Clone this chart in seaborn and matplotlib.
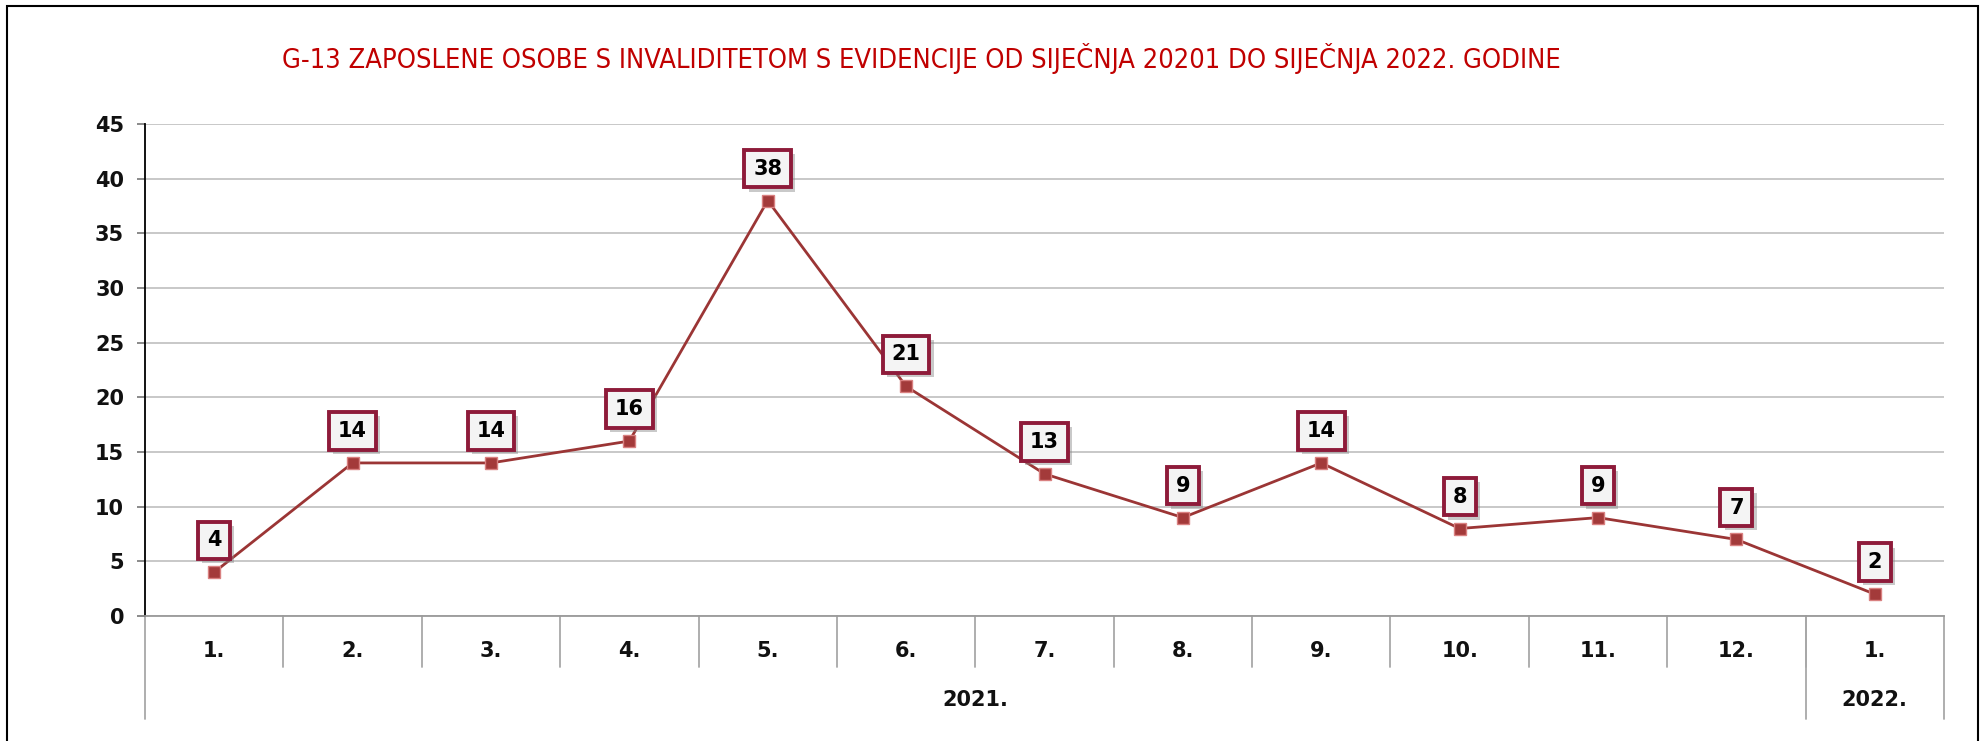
import matplotlib
matplotlib.use("Agg")
import matplotlib.pyplot as plt
import matplotlib.patheffects as pe
from matplotlib.patches import Rectangle
import matplotlib.transforms as mtransforms
import seaborn as sns
import pandas as pd

months = ["1.", "2.", "3.", "4.", "5.", "6.", "7.", "8.", "9.", "10.", "11.", "12.", "1."]
years = ["2021.", "2022."]
year_span = [12, 1]
values = [4, 14, 14, 16, 38, 21, 13, 9, 14, 8, 9, 7, 2]
title = "G-13 ZAPOSLENE OSOBE S INVALIDITETOM S EVIDENCIJE OD SIJEČNJA 20201 DO SIJEČNJA 2022. GODINE"

df = pd.DataFrame({"pos": range(len(values)), "value": values})

sns.set_theme(style="white")
plt.rcParams["font.family"] = ["DejaVu Sans"]

W, H = 1986, 741
fig = plt.figure(figsize=(W / 100, H / 100), dpi=100)
ax = fig.add_axes([145 / W, 1 - 616 / H, (1944 - 145) / W, (616 - 124) / H])

line_col = "#9B3535"
sns.lineplot(data=df, x="pos", y="value", ax=ax, color=line_col, linewidth=2.0,
             marker="s", markersize=8.5, markerfacecolor="#A33A3A",
             markeredgecolor="#D98080", markeredgewidth=1.0)

ax.set_xlim(-0.5, len(values) - 0.5)
ax.set_ylim(0, 45)
ax.set_yticks(range(0, 46, 5))
ax.set_yticklabels([str(v) for v in range(0, 46, 5)], fontsize=15, fontweight="bold", color="#111111")
ax.yaxis.grid(True, color="#C4C4C4", linewidth=1.3)
ax.set_axisbelow(True)
ax.tick_params(axis="y", direction="out", length=6, width=1.2, color="#777777", pad=9, left=True)
ax.set_xticks([])
ax.set_xlabel("")
ax.set_ylabel("")
for s in ["top", "right"]:
    ax.spines[s].set_visible(False)
ax.spines["left"].set_color("black")
ax.spines["left"].set_linewidth(1.3)
ax.spines["bottom"].set_color("#9A9A9A")
ax.spines["bottom"].set_linewidth(1.3)

trans = mtransforms.blended_transform_factory(ax.transData, ax.transAxes)
n = len(values)
# month labels and separators
for i, m in enumerate(months):
    ax.text(i, -0.072, m, transform=trans, ha="center", va="center",
            fontsize=15, fontweight="bold", color="#111111")
for b in range(1, n):
    ax.plot([b - 0.5, b - 0.5], [0, -0.104], transform=trans, color="#A8A8A8",
            linewidth=1.3, clip_on=False)
# year labels and separators
start = 0
bounds = [-0.5]
for y, span in zip(years, year_span):
    center = start + (span - 1) / 2
    ax.text(center, -0.171, y, transform=trans, ha="center", va="center",
            fontsize=15, fontweight="bold", color="#111111")
    start += span
    bounds.append(start - 0.5)
for b in bounds:
    ax.plot([b, b], [0, -0.209], transform=trans, color="#A8A8A8",
            linewidth=1.3, clip_on=False)

# data labels
for i, v in enumerate(values):
    ann = ax.annotate(str(v), xy=(i, v), xytext=(0, 23), textcoords="offset points",
                      ha="center", va="center", fontsize=15, fontweight="bold", color="black",
                      bbox=dict(boxstyle="square,pad=0.42", facecolor="#F4F4F4",
                                edgecolor="#8E1B3A", linewidth=2.8))
    ann.get_bbox_patch().set_path_effects([
        pe.SimplePatchShadow(offset=(3, -3), shadow_rgbFace="#888888", alpha=0.45),
        pe.Normal()])

fig.text(921 / W, 1 - 58 / H, title, ha="center", va="center", fontsize=19.5,
         color="#C00000", family=["Liberation Sans Narrow", "DejaVu Sans"], stretch="condensed")

# outer frame
fig.patches.append(Rectangle((7 / W, -0.1), (1978 - 7) / W, 1.1 - 6 / H, transform=fig.transFigure,
                             fill=False, edgecolor="black", linewidth=1.5))

fig.savefig("out.png", dpi=100, facecolor="white")
